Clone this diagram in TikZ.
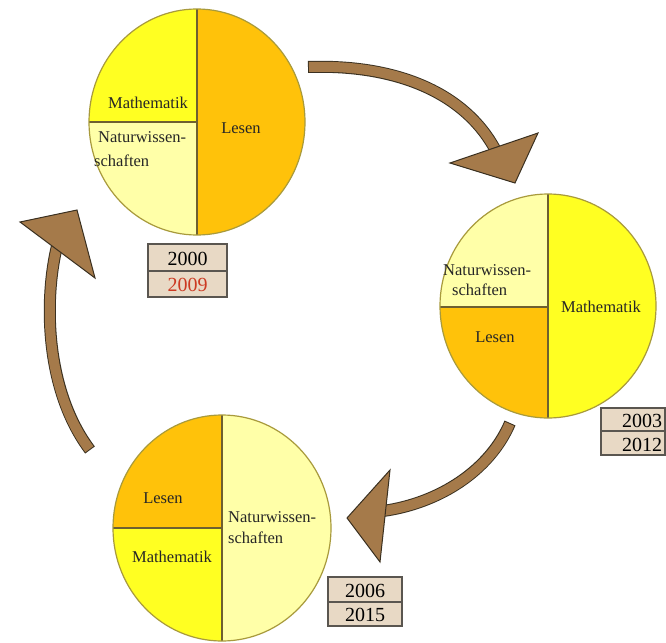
\documentclass[tikz,border=0pt]{standalone}
\usepackage{fontspec}
\setmainfont{Liberation Serif}
\definecolor{lesen}{HTML}{FFC20A}
\definecolor{mathe}{HTML}{FFFF22}
\definecolor{natur}{HTML}{FFFFA8}
\definecolor{rimc}{HTML}{A89A3C}
\definecolor{divc}{HTML}{6E6030}
\definecolor{arrowfill}{HTML}{A57A4A}
\definecolor{arrowline}{HTML}{3A3020}
\definecolor{boxfill}{HTML}{E8D9C5}
\definecolor{boxline}{HTML}{5A5650}
\definecolor{yearred}{HTML}{CC3A22}
\tikzset{
  rim/.style={draw=rimc, line width=1.2pt},
  divider/.style={draw=divc, line width=1.2pt},
  label/.style={font=\fontsize{16.5}{20}\selectfont, text=black!85, inner sep=0pt},
  yearbox/.style={draw=boxline, fill=boxfill, line width=1.2pt},
  year/.style={font=\fontsize{20}{24}\selectfont, inner sep=0pt},
  shaftout/.style={draw=arrowline, line width=12pt},
  shaftin/.style={draw=arrowfill, line width=10pt, shorten <=1pt},
  headtri/.style={fill=arrowfill, draw=arrowline, line width=1pt, line join=miter},
}
\begin{document}
\begin{tikzpicture}[x=1pt,y=-1pt]
\useasboundingbox (0,0) rectangle (666,642);
\clip (0,0) rectangle (666,642);
\fill[white] (0,0) rectangle (666,642);

% ---------- Pie 1 (2000/2009) ----------
\coordinate (c1) at (197,122);
\begin{scope}
  \clip (c1) ellipse [x radius=108pt, y radius=113pt];
  \fill[lesen] (197,0) rectangle (320,250);
  \fill[mathe] (80,0) rectangle (197,122);
  \fill[natur] (80,122) rectangle (197,250);
  \draw[divider] (197,0) -- (197,250);
  \draw[divider] (80,122) -- (197,122);
\end{scope}
\draw[rim] (c1) ellipse [x radius=108pt, y radius=113pt];
\node[label, anchor=base] (m1) at (148,108) {Mathematik};
\node[label, anchor=base] (l1) at (241,133) {Lesen};
\node[label, anchor=base west] (n1a) at (98,142) {Naturwissen-};
\node[label, anchor=base west] (n1b) at (94,166) {schaften};
\draw[yearbox] (148,244) rectangle (227,297);
\draw[boxline, line width=1.2pt] (148,271) -- (227,271);
\node[year, anchor=base] (y1a) at (187.5,265) {2000};
\node[year, anchor=base, text=yearred] (y1b) at (187.5,291) {2009};

% ---------- Pie 2 (2003/2012) ----------
\coordinate (c2) at (548,306);
\begin{scope}
  \clip (c2) ellipse [x radius=108pt, y radius=112pt];
  \fill[mathe] (548,180) rectangle (670,430);
  \fill[natur] (430,180) rectangle (548,307);
  \fill[lesen] (430,307) rectangle (548,430);
  \draw[divider] (548,180) -- (548,430);
  \draw[divider] (430,307) -- (548,307);
\end{scope}
\draw[rim] (c2) ellipse [x radius=108pt, y radius=112pt];
\node[label, anchor=base west] (n2a) at (443,275) {Naturwissen-};
\node[label, anchor=base west] (n2b) at (452,295) {schaften};
\node[label, anchor=base] (m2) at (601,312) {Mathematik};
\node[label, anchor=base] (l2) at (495,342) {Lesen};
\draw[yearbox] (601,408) rectangle (665,455);
\draw[boxline, line width=1.2pt] (601,431) -- (665,431);
\node[year, anchor=base] (y2a) at (642,427) {2003};
\node[year, anchor=base] (y2b) at (642,451) {2012};

% ---------- Pie 3 (2006/2015) ----------
\coordinate (c3) at (222,528);
\begin{scope}
  \clip (c3) ellipse [x radius=109pt, y radius=113pt];
  \fill[natur] (222,400) rectangle (340,650);
  \fill[lesen] (100,400) rectangle (222,528);
  \fill[mathe] (100,528) rectangle (222,650);
  \draw[divider] (222,400) -- (222,650);
  \draw[divider] (100,528) -- (222,528);
\end{scope}
\draw[rim] (c3) ellipse [x radius=109pt, y radius=113pt];
\node[label, anchor=base] (l3) at (163,503) {Lesen};
\node[label, anchor=base] (m3) at (172,562) {Mathematik};
\node[label, anchor=base west] (n3a) at (228,522) {Naturwissen-};
\node[label, anchor=base west] (n3b) at (228,543) {schaften};
\draw[yearbox] (328,577) rectangle (402,626);
\draw[boxline, line width=1.2pt] (328,602) -- (402,602);
\node[year, anchor=base] (y3a) at (365,597) {2006};
\node[year, anchor=base] (y3b) at (365,621) {2015};

% ---------- Arrow 1: top-left -> right ----------
\coordinate (a1s) at (308,67);
\coordinate (a1e) at (496,151);
\draw[shaftout] (a1s) .. controls (395,64) and (465,92) .. (a1e);
\draw[shaftin]  (a1s) .. controls (395,64) and (465,92) .. (a1e);
\coordinate (h1a) at (450,163);
\coordinate (h1b) at (538,133);
\coordinate (h1t) at (515,183);
\draw[headtri] (h1a) -- (h1b) -- (h1t) -- cycle;

% ---------- Arrow 2: right -> bottom ----------
\coordinate (a2s) at (510,423);
\coordinate (a2e) at (383,511);
\draw[shaftout] (a2s) .. controls (490,470) and (440,503) .. (a2e);
\draw[shaftin]  (a2s) .. controls (490,470) and (440,503) .. (a2e);
\coordinate (h2a) at (390,470);
\coordinate (h2t) at (347,518);
\coordinate (h2b) at (380,562);
\draw[headtri] (h2a) -- (h2t) -- (h2b) -- cycle;

% ---------- Arrow 3: bottom -> top-left ----------
\coordinate (a3s) at (90,450);
\coordinate (a3e) at (57,246);
\draw[shaftout] (a3s) .. controls (45,390) and (44,300) .. (a3e);
\draw[shaftin]  (a3s) .. controls (45,390) and (44,300) .. (a3e);
\coordinate (h3a) at (20,222);
\coordinate (h3t) at (77,210);
\coordinate (h3b) at (95,278);
\draw[headtri] (h3a) -- (h3t) -- (h3b) -- cycle;
\end{tikzpicture}
\end{document}
